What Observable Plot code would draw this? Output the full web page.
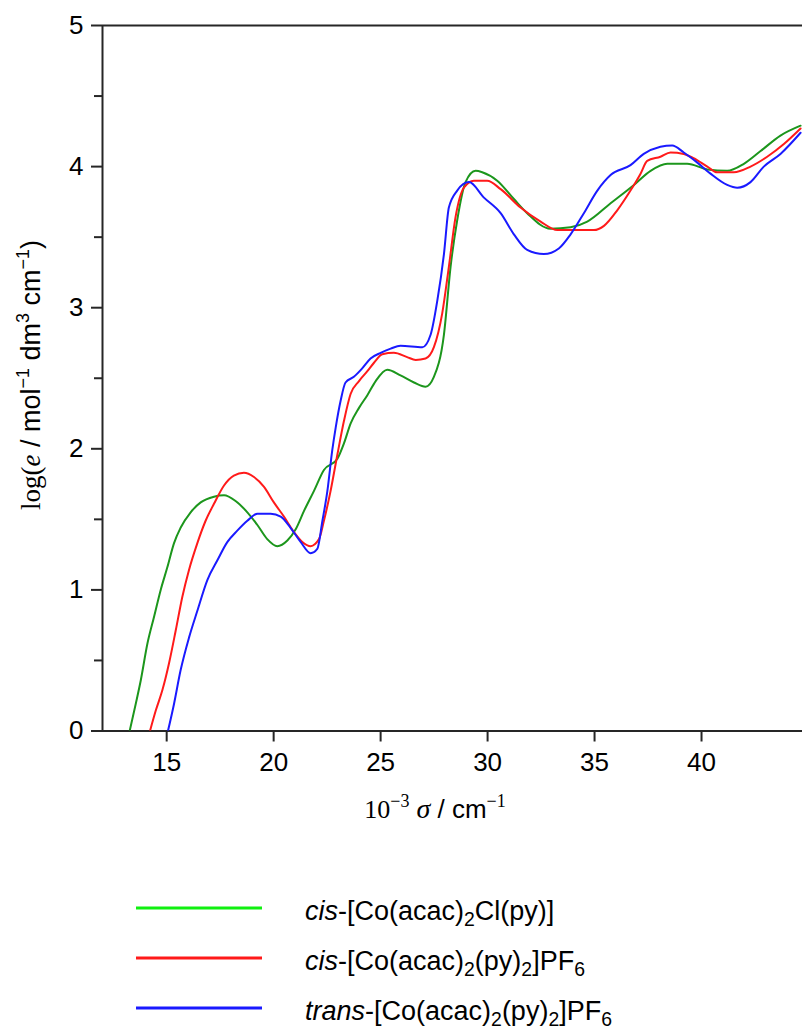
<!DOCTYPE html>
<html>
<head>
<meta charset="utf-8">
<script src="https://cdn.jsdelivr.net/npm/d3@7"></script>
<script src="https://cdn.jsdelivr.net/npm/@observablehq/plot@0.6"></script>
<style>
  html, body { margin: 0; padding: 0; background: #fff; }
  #chart svg { display: block; }
  #legend { padding-top: 23px; font-family: "Liberation Sans", Arial, sans-serif; font-size: 27px; color: #000; }
  .row { display: flex; align-items: center; height: 50px; }
  .row svg { margin-left: 136px; display: block; }
  .row span.lab { margin-left: 43px; white-space: nowrap; position: relative; top: 3px; }
  sub { font-size: 0.72em; vertical-align: -0.32em; line-height: 0; }
</style>
</head>
<body>
<div id="chart"></div>
<div id="legend"></div>
<script>
// ---- data (x: 10^-3 sigma / cm^-1, y: log(e)) ----
const greenX = [13.27,13.55,13.79,14.10,14.41,14.72,15.03,15.34,15.65,16.12,16.59,17.21,17.68,18.22,18.77,19.24,19.70,20.17,20.64,21.03,21.42,21.88,22.35,22.98,23.29,23.60,23.99,24.38,24.77,25.31,25.93,26.56,27.10,27.49,27.96,28.27,28.58,28.97,29.44,29.75,30.45,31.23,31.85,32.94,33.88,34.66,35.75,36.84,37.62,38.40,39.33,40.27,41.20,41.98,42.76,43.69,44.63];
const greenY = [0,0.19,0.36,0.62,0.81,1.0,1.16,1.33,1.44,1.55,1.62,1.66,1.67,1.63,1.55,1.46,1.36,1.31,1.35,1.43,1.56,1.70,1.85,1.93,2.04,2.18,2.29,2.38,2.48,2.56,2.52,2.47,2.44,2.51,2.81,3.29,3.62,3.89,3.97,3.96,3.90,3.77,3.67,3.56,3.57,3.61,3.74,3.87,3.97,4.02,4.02,3.98,3.97,4.02,4.11,4.22,4.29];

const redX = [14.22,14.49,14.80,15.11,15.42,15.73,16.04,16.43,16.82,17.21,17.68,18.14,18.61,19.08,19.55,20.01,20.48,20.95,21.34,21.73,22.12,22.35,22.66,22.98,23.29,23.60,23.99,24.38,24.69,25.08,25.62,26.24,26.64,27.10,27.49,27.88,28.19,28.50,28.89,29.36,29.98,30.61,31.54,32.48,33.26,34.19,34.97,35.44,36.06,36.68,37.15,37.46,38.08,38.55,39.17,39.63,40.27,40.73,41.51,42.29,43.07,43.85,44.63];
const redY = [0,0.145,0.29,0.48,0.71,0.95,1.14,1.33,1.49,1.61,1.74,1.81,1.83,1.80,1.73,1.62,1.52,1.41,1.34,1.31,1.36,1.49,1.70,1.96,2.20,2.39,2.48,2.55,2.61,2.67,2.68,2.65,2.63,2.64,2.72,2.96,3.29,3.64,3.85,3.90,3.90,3.84,3.71,3.61,3.55,3.55,3.55,3.58,3.69,3.83,3.95,4.04,4.07,4.10,4.09,4.06,4.00,3.96,3.96,4.00,4.07,4.16,4.27];

const blueX = [15.06,15.34,15.65,16.04,16.43,16.90,17.37,17.84,18.30,18.77,19.24,19.86,20.33,20.79,21.26,21.73,22.04,22.28,22.51,22.74,22.90,23.13,23.36,23.75,24.14,24.53,25.00,25.47,25.93,26.95,27.34,27.65,27.96,28.19,28.58,29.13,29.83,30.61,31.23,31.85,32.63,33.33,33.88,34.50,35.13,35.75,36.68,37.30,38.08,38.63,39.17,39.79,40.42,41.20,41.67,42.29,42.91,43.69,44.63];
const blueY = [0,0.19,0.43,0.66,0.85,1.07,1.21,1.34,1.42,1.49,1.54,1.54,1.52,1.44,1.34,1.26,1.29,1.49,1.70,1.99,2.15,2.34,2.47,2.51,2.57,2.64,2.68,2.71,2.73,2.72,2.81,3.05,3.38,3.71,3.83,3.89,3.78,3.67,3.52,3.41,3.38,3.42,3.52,3.67,3.83,3.94,4.01,4.09,4.14,4.15,4.10,4.03,3.95,3.87,3.85,3.89,4.00,4.09,4.24];

const xTicks = [15, 20, 25, 30, 35, 40];
const yTicks = [0, 1, 2, 3, 4, 5];
const yMinorTicks = [0.5, 1.5, 2.5, 3.5, 4.5];

const seriesNames = ["cis-[Co(acac)2Cl(py)]", "cis-[Co(acac)2(py)2]PF6", "trans-[Co(acac)2(py)2]PF6"];
const lineColors = ["#1c961c", "#ff1a1a", "#1a1aff"];
const legendColors = ["#10f010", "#ff1a1a", "#1a1aff"];

const toRows = (xs, ys) => xs.map((x, i) => ({x, y: ys[i]}));
const rows = [toRows(greenX, greenY), toRows(redX, redY), toRows(blueX, blueY)];

const axisColor = "#262626";
const plot = Plot.plot({
  width: 802,
  height: 860,
  marginLeft: 102,
  marginRight: 0,
  marginTop: 25,
  marginBottom: 129.5,
  style: {fontFamily: "'Liberation Sans', Arial, sans-serif", fontSize: "26px", color: "#000", background: "#fff"},
  x: {domain: [12, 44.72], label: null},
  y: {domain: [0, 5], label: null},
  marks: [
    Plot.axisX({ticks: xTicks, tickFormat: d => String(d), tickSize: 11, tickPadding: 11, stroke: axisColor, strokeWidth: 2, fill: "#000", fontSize: 26, label: null}),
    Plot.axisY({ticks: yTicks, tickFormat: d => String(d), tickSize: 11, tickPadding: 8, stroke: axisColor, strokeWidth: 2, fill: "#000", fontSize: 26, label: null}),
    Plot.axisY({ticks: yMinorTicks, tickSize: 8, tickFormat: () => "", stroke: axisColor, strokeWidth: 2, label: null}),
    Plot.ruleX([12], {stroke: axisColor, strokeWidth: 2}),
    Plot.ruleY([0], {stroke: axisColor, strokeWidth: 2}),
    Plot.ruleY([5], {stroke: axisColor, strokeWidth: 2}),
    ...rows.map((r, i) => Plot.line(r, {x: "x", y: "y", stroke: lineColors[i], strokeWidth: 2, curve: "monotone-x", clip: true}))
  ]
});
document.getElementById("chart").append(plot);

// axis titles with mixed fonts
const svg = d3.select(plot);
const serif = "'Liberation Serif', 'Times New Roman', serif";
const sans = "'Liberation Sans', Arial, sans-serif";

const yl = svg.append("text")
  .attr("transform", "translate(40,375) rotate(-90)")
  .attr("text-anchor", "middle")
  .attr("fill", "#000")
  .style("font-size", "27px");
yl.append("tspan").style("font-family", serif).text("log(");
yl.append("tspan").style("font-family", serif).style("font-style", "italic").text("e");
yl.append("tspan").style("font-family", sans).text(" / mol");
yl.append("tspan").style("font-family", sans).style("font-size", "18px").attr("dy", -11).text("\u22121");
yl.append("tspan").style("font-family", sans).attr("dy", 11).text(" dm");
yl.append("tspan").style("font-family", sans).style("font-size", "18px").attr("dy", -11).text("3");
yl.append("tspan").style("font-family", sans).attr("dy", 11).text(" cm");
yl.append("tspan").style("font-family", sans).style("font-size", "18px").attr("dy", -11).text("\u22121");
yl.append("tspan").style("font-family", sans).attr("dy", 11).text(")");

const xl = svg.append("text")
  .attr("transform", "translate(435,818)")
  .attr("text-anchor", "middle")
  .attr("fill", "#000")
  .style("font-size", "26px");
xl.append("tspan").style("font-family", serif).text("10");
xl.append("tspan").style("font-family", serif).style("font-size", "18px").attr("dy", -11).text("\u22123");
xl.append("tspan").style("font-family", serif).style("font-style", "italic").style("font-size", "28px").attr("dy", 11).text(" \u03c3");
xl.append("tspan").style("font-family", sans).text(" / cm");
xl.append("tspan").style("font-family", serif).style("font-size", "18px").attr("dy", -11).text("\u22121");

// legend
const legendHTML = [
  '<i>cis</i>-[Co(acac)<sub>2</sub>Cl(py)]',
  '<i>cis</i>-[Co(acac)<sub>2</sub>(py)<sub>2</sub>]PF<sub>6</sub>',
  '<i>trans</i>-[Co(acac)<sub>2</sub>(py)<sub>2</sub>]PF<sub>6</sub>'
];
const legend = d3.select("#legend");
seriesNames.forEach((name, i) => {
  const row = legend.append("div").attr("class", "row").attr("title", name);
  const s = row.append("svg").attr("width", 126).attr("height", 4);
  s.append("line").attr("x1", 0).attr("x2", 126).attr("y1", 2).attr("y2", 2)
    .attr("stroke", legendColors[i]).attr("stroke-width", 3);
  row.append("span").attr("class", "lab").html(legendHTML[i]);
});
</script>
</body>
</html>
